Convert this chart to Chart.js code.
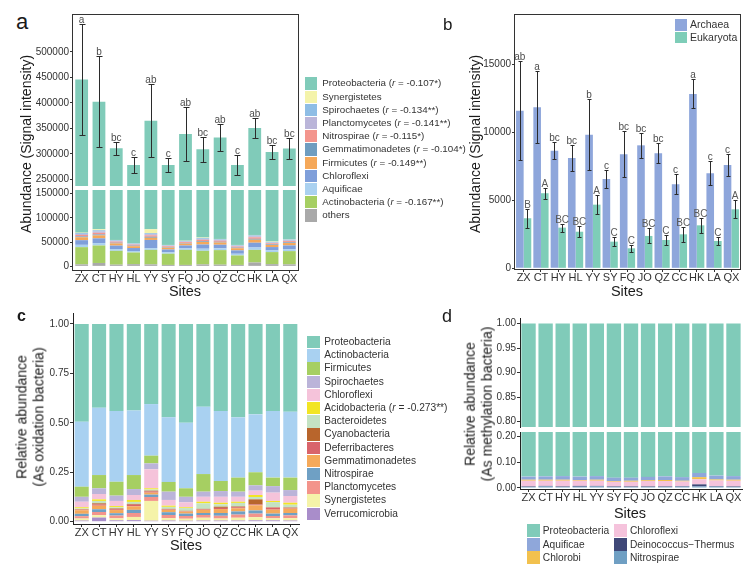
<!DOCTYPE html>
<html>
<head>
<meta charset="utf-8">
<title>Abundance by site</title>
<script src="https://cdn.jsdelivr.net/npm/chart.js@4.4.1/dist/chart.umd.min.js"></script>
<style>
  body { margin: 0; background: #ffffff; }
  #fig { position: relative; width: 749px; height: 575px; overflow: hidden;
         font-family: "Liberation Sans", Arial, Helvetica, sans-serif; color: #1a1a1a; }
  #fig canvas { position: absolute; }
  .txt { position: absolute; white-space: nowrap; line-height: 1; }
  .ytitle { position: absolute; white-space: nowrap; text-align: center; font-size: 14px;
            transform: translate(-50%, -50%) rotate(-90deg); }
  .xtitle { position: absolute; white-space: nowrap; font-size: 14.5px; line-height: 1;
            transform: translate(-50%, -50%); }
  .frame { position: absolute; border: 1px solid #333; box-sizing: border-box; pointer-events: none; }
  .key { position: absolute; }
  .keytxt { position: absolute; white-space: nowrap; color: #333; }
</style>
</head>
<body>
<div id="fig"></div>
<script>
//*************  Dados  ****************/
const sites = ["ZX", "CT", "HY", "HL", "YY", "SY", "FQ", "JO", "QZ", "CC", "HK", "LA", "QX"]

// a) abundancia (signal intensity), camadas de baixo para cima
const aTotal   = [445500, 402000, 311000, 278000, 365000, 278000, 338700, 309000, 332000, 278000, 350600, 303800, 310300]
const aError   = [109000, 89000, 13000, 15000, 72000, 13500, 53000, 24500, 26000, 20000, 20000, 14000, 20000]
const aLetters = ["a", "b", "bc", "c", "ab", "c", "ab", "bc", "ab", "c", "ab", "bc", "bc"]
const aOthers  = [4000, 7000, 3500, 4500, 4000, 3000, 3000, 4000, 3500, 3000, 8000, 4500, 4000]
const aActino  = [35600, 36000, 28500, 24100, 30000, 23000, 31000, 28000, 30000, 19500, 26000, 24900, 27400]
const aAquif   = [4800, 5000, 3600, 3000, 3500, 2900, 3000, 4400, 3700, 3500, 4900, 3500, 3900]
const aChloro  = [9600, 9800, 7200, 6200, 17000, 5900, 6100, 8700, 7400, 7000, 9900, 6900, 7900]
const aFirm    = [6000, 6000, 4500, 3800, 4500, 3700, 3800, 5400, 4600, 4400, 6200, 4300, 4900]
const aGemma   = [1800, 2000, 1400, 1200, 2000, 1100, 1100, 1600, 1400, 1300, 1800, 1300, 1500]
const aNitro   = [3000, 3400, 2300, 2000, 3000, 1800, 1900, 2700, 2300, 2200, 3100, 2200, 2500]
const aPlancto = [2200, 2600, 1600, 1300, 2400, 1300, 1400, 1900, 1600, 1500, 2200, 1500, 1700]
const aSpiro   = [1800, 2600, 1400, 1200, 2000, 1100, 1200, 1600, 1400, 1300, 1900, 1300, 1500]
const aSynerg  = [700, 2000, 500, 500, 8000, 500, 500, 1000, 700, 600, 800, 700, 700]
const aProteo  = [376000, 325600, 256500, 230200, 288600, 233700, 285700, 249700, 275400, 233700, 285800, 252700, 254300]
const aNames   = ["others", "Actinobacteria", "Aquificae", "Chloroflexi", "Firmicutes", "Gemmatimonadetes",
                  "Nitrospirae", "Planctomycetes", "Spirochaetes", "Synergistetes", "Proteobacteria"]
const aNotes   = ["", "(r = -0.167**)", "", "", "(r = -0.149**)", "(r = -0.104*)",
                  "(r = -0.115*)", "(r = -0.141**)", "(r = -0.134**)", "", "(r = -0.107*)"]
const aColors  = ["#a9a9a9", "#a6cf63", "#aad1f0", "#7f9fda", "#f5a859", "#6f9dc0",
                  "#f3958d", "#bab5d9", "#8ebde5", "#f4f3aa", "#80cbb9"]
const aTopTicks = [250000, 300000, 350000, 400000, 450000, 500000]
const aTopLabels = ["250000", "300000", "350000", "400000", "450000", "500000"]
const aBotTicks = [0, 50000, 100000, 150000]
const aBotLabels = ["0", "50000", "100000", "150000"]

// b) Archaea / Eukaryota
const archaea     = [11590, 11840, 8650, 8110, 9820, 6570, 8380, 9040, 8460, 6180, 12820, 6990, 7600]
const archaeaErr  = [3640, 2630, 600, 950, 2600, 630, 1700, 900, 730, 735, 1070, 880, 820]
const archaeaLet  = ["ab", "a", "bc", "bc", "b", "c", "bc", "bc", "bc", "c", "a", "c", "c"]
const eukaryota   = [3680, 5520, 2990, 2690, 4680, 1960, 1470, 2380, 2080, 2500, 3160, 2010, 4340]
const eukaryotaErr = [700, 400, 300, 400, 700, 350, 250, 550, 340, 550, 550, 280, 660]
const eukaryotaLet = ["B", "A", "BC", "BC", "A", "C", "C", "BC", "C", "BC", "BC", "C", "A"]
const bNames  = ["Archaea", "Eukaryota"]
const bColors = ["#8ea6db", "#7ecdb8"]
const bTicks  = [0, 5000, 10000, 15000]
const bLabels = ["0", "5000", "10000", "15000"]

// c) abundancia relativa (oxidacao), camadas de baixo para cima
const cVerruco = [0.006, 0.021, 0.007, 0.008, 0.005, 0.006, 0.005, 0.006, 0.006, 0.006, 0.007, 0.007, 0.006]
const cSynerg  = [0.010, 0.012, 0.010, 0.016, 0.100, 0.012, 0.010, 0.014, 0.010, 0.014, 0.016, 0.010, 0.012]
const cPlancto = [0.012, 0.016, 0.014, 0.020, 0.020, 0.016, 0.014, 0.014, 0.014, 0.016, 0.018, 0.012, 0.014]
const cNitro   = [0.012, 0.014, 0.012, 0.016, 0.012, 0.014, 0.012, 0.010, 0.014, 0.016, 0.016, 0.012, 0.012]
const cGemma   = [0.018, 0.018, 0.016, 0.018, 0.010, 0.012, 0.010, 0.016, 0.020, 0.016, 0.026, 0.020, 0.022]
const cDeferri = [0.003, 0.006, 0.004, 0.008, 0.006, 0.003, 0.002, 0.003, 0.006, 0.005, 0.004, 0.010, 0.004]
const cCyano   = [0.002, 0.006, 0.004, 0.004, 0.004, 0.002, 0.002, 0.002, 0.006, 0.004, 0.026, 0.002, 0.002]
const cBact    = [0.004, 0.012, 0.006, 0.010, 0.006, 0.010, 0.014, 0.028, 0.012, 0.018, 0.012, 0.026, 0.014]
const cAcido   = [0.006, 0.008, 0.006, 0.010, 0.006, 0.006, 0.004, 0.008, 0.008, 0.006, 0.010, 0.006, 0.010]
const cChloro  = [0.028, 0.027, 0.026, 0.025, 0.096, 0.029, 0.025, 0.025, 0.030, 0.025, 0.022, 0.042, 0.034]
const cSpiro   = [0.025, 0.029, 0.027, 0.030, 0.030, 0.042, 0.028, 0.026, 0.029, 0.026, 0.027, 0.033, 0.030]
const cFirm    = [0.051, 0.067, 0.070, 0.071, 0.039, 0.049, 0.043, 0.089, 0.051, 0.071, 0.066, 0.043, 0.063]
const cActino  = [0.329, 0.341, 0.358, 0.326, 0.261, 0.327, 0.332, 0.341, 0.354, 0.305, 0.293, 0.337, 0.333]
const cProteo  = [0.494, 0.423, 0.440, 0.438, 0.405, 0.472, 0.499, 0.418, 0.440, 0.472, 0.457, 0.440, 0.444]
const cNames   = ["Verrucomicrobia", "Synergistetes", "Planctomycetes", "Nitrospirae", "Gemmatimonadetes",
                  "Deferribacteres", "Cyanobacteria", "Bacteroidetes", "Acidobacteria", "Chloroflexi",
                  "Spirochaetes", "Firmicutes", "Actinobacteria", "Proteobacteria"]
const cNotes   = ["", "", "", "", "", "", "", "", "(r = -0.273**)", "", "", "", "", ""]
const cColors  = ["#a98dca", "#f5f3a9", "#f3948b", "#6fa0c4", "#f5a95a", "#d9646b", "#b8652c",
                  "#c4e3c3", "#f2e524", "#f5c3da", "#bbb4d9", "#a6cf62", "#a9d1f1", "#80cbb9"]
const cTicks  = [0, 0.25, 0.5, 0.75, 1]
const cLabels = ["0.00", "0.25", "0.50", "0.75", "1.00"]

// d) abundancia relativa (metilacao), camadas de baixo para cima
const dNitro    = [0.004, 0.006, 0.004, 0.005, 0.006, 0.004, 0.004, 0.004, 0.004, 0.005, 0.006, 0.005, 0.004]
const dDeino    = [0.002, 0.002, 0.002, 0.003, 0.002, 0.002, 0.002, 0.002, 0.002, 0.002, 0.008, 0.002, 0.002]
const dChloro   = [0.022, 0.020, 0.022, 0.020, 0.020, 0.018, 0.018, 0.021, 0.021, 0.018, 0.020, 0.022, 0.022]
const dChlorobi = [0.004, 0.004, 0.004, 0.003, 0.004, 0.003, 0.004, 0.003, 0.004, 0.003, 0.008, 0.004, 0.004]
const dAquif    = [0.012, 0.013, 0.014, 0.013, 0.014, 0.013, 0.012, 0.013, 0.014, 0.014, 0.016, 0.015, 0.014]
const dProteo   = [0.956, 0.955, 0.954, 0.956, 0.954, 0.960, 0.960, 0.957, 0.955, 0.958, 0.942, 0.952, 0.954]
const dNames    = ["Nitrospirae", "Deinococcus\u2212Thermus", "Chloroflexi", "Chlorobi", "Aquificae", "Proteobacteria"]
const dColors   = ["#6f9fc3", "#3f4878", "#f5c3dc", "#f2c14e", "#8fa7da", "#80cbb9"]
const dTopTicks  = [0.80, 0.85, 0.90, 0.95, 1.00]
const dTopLabels = ["0.80", "0.85", "0.90", "0.95", "1.00"]
const dBotTicks  = [0, 0.05, 0.10, 0.15, 0.20]
const dBotLabels = ["0.00", "", "0.10", "", "0.20"]

const aLayers = [aOthers, aActino, aAquif, aChloro, aFirm, aGemma, aNitro, aPlancto, aSpiro, aSynerg, aProteo]
const cLayers = [cVerruco, cSynerg, cPlancto, cNitro, cGemma, cDeferri, cCyano, cBact, cAcido, cChloro, cSpiro, cFirm, cActino, cProteo]
const dLayers = [dNitro, dDeino, dChloro, dChlorobi, dAquif, dProteo]


//*************  Plugin: barras de erro + letras  ****************/
const errorBars = {
    id: "errorBars",
    afterDatasetsDraw(chart, args, opts){
        if(!opts.items) return
        let ctx = chart.ctx
        let y = chart.scales.y
        ctx.save()
        ctx.lineWidth = 1
        ctx.textAlign = "center"
        ctx.textBaseline = "alphabetic"
        ctx.font = '10px "Liberation Sans", Arial, sans-serif'
        opts.items.forEach(item => {
            let meta = chart.getDatasetMeta(item.dataset)
            meta.data.forEach((bar, i) => {
                let x = Math.round(bar.x) + 0.5
                let top = Math.round(y.getPixelForValue(item.centre[i] + item.err[i])) + 0.5
                let bot = Math.round(y.getPixelForValue(item.centre[i] - item.err[i])) + 0.5
                let h = item.cap / 2
                ctx.strokeStyle = "#2b2b2b"
                ctx.beginPath()
                ctx.moveTo(x, top)
                ctx.lineTo(x, bot)
                ctx.moveTo(x - h, top)
                ctx.lineTo(x + h, top)
                ctx.moveTo(x - h, bot)
                ctx.lineTo(x + h, bot)
                ctx.stroke()
                ctx.fillStyle = item.textColor
                ctx.fillText(item.letters[i], bar.x, top - 1.5)
            })
        })
        ctx.restore()
    }
}


//*************  Helpers  ****************/
const fig = document.getElementById("fig")
Chart.defaults.font.family = '"Liberation Sans", Arial, sans-serif'

function addDiv(cls, css, html){
    let el = document.createElement("div")
    el.className = cls
    Object.assign(el.style, css)
    if(html) el.innerHTML = html
    fig.appendChild(el)
    return el
}

// texto posicionado pela linha de base
function addLabel(text, x, baseline, size, weight){
    addDiv("txt", {left: x + "px", top: (baseline - 0.85 * size) + "px",
                   fontSize: size + "px", fontWeight: weight || "normal"}, text)
}

function addLegend(items, x, y, pitch, kw, kh, dx, size){
    items.forEach((it, i) => {
        let top = y + i * pitch
        addDiv("key", {left: x + "px", top: top + "px", width: kw + "px", height: kh + "px", background: it.color})
        addDiv("keytxt", {left: (x + dx) + "px", top: top + "px", height: kh + "px",
                          lineHeight: kh + "px", fontSize: size + "px"}, it.label)
    })
}

function legendLabel(name, note){
    if(!note) return name
    return name + " " + note.replace("r =", "<i>r</i> =")
}

function layer(label, data, color, pct){
    return {label: label, data: data, backgroundColor: color, borderWidth: 0,
            categoryPercentage: pct, barPercentage: 1, clip: 0}
}

// area = caixa do grafico (px na pagina)
function makeChart(area, o, datasets){
    let padTop = 10, padRight = 4
    let padBottom = o.xh ? 0 : 8
    let left = area.l - o.yw
    let top = area.t - padTop
    let canvas = document.createElement("canvas")
    canvas.width = area.r - left + padRight
    canvas.height = area.b - top + padBottom + (o.xh || 0)
    canvas.style.left = left + "px"
    canvas.style.top = top + "px"
    fig.appendChild(canvas)

    return new Chart(canvas, {
        type: "bar",
        data: {labels: sites, datasets: datasets},
        plugins: [errorBars],
        options: {
            responsive: false,
            animation: false,
            devicePixelRatio: 1,
            layout: {padding: {top: padTop, right: padRight, bottom: padBottom, left: 0}},
            plugins: {
                legend: {display: false},
                tooltip: {enabled: false},
                errorBars: o.errorBars || {}
            },
            scales: {
                x: {
                    display: !!o.xh,
                    stacked: o.stacked,
                    offset: true,
                    grid: {drawOnChartArea: false, offset: false, tickLength: 3, color: "#333"},
                    border: {display: !!o.axisLines, color: "#222"},
                    ticks: {autoSkip: false, maxRotation: 0, minRotation: 0, padding: 0,
                            color: "#333", font: {size: 11, lineHeight: 1}},
                    afterFit: s => { if(o.xh) s.height = o.xh }
                },
                y: {
                    stacked: o.stacked,
                    min: o.min,
                    max: o.max,
                    grid: {drawOnChartArea: false, tickLength: 3, color: "#333"},
                    border: {display: !!o.axisLines, color: "#222"},
                    ticks: {padding: 1, color: "#333", font: {size: 10},
                            callback: (v, i) => o.labels[i]},
                    afterBuildTicks: s => { s.ticks = o.ticks.map(v => ({value: v})) },
                    afterFit: s => { s.width = o.yw }
                }
            }
        }
    })
}


//*************  Painel a  ****************/
makeChart({l: 73, t: 15, r: 298, b: 186},
    {yw: 43, stacked: true, min: 237000, max: 572000, ticks: aTopTicks, labels: aTopLabels,
     errorBars: {items: [{dataset: aLayers.length - 1, centre: aTotal, err: aError,
                          letters: aLetters, cap: 6, textColor: "#4d4d4d"}]}},
    aLayers.map((d, i) => layer(aNames[i], d, aColors[i], 0.74)))

makeChart({l: 73, t: 190, r: 298, b: 270},
    {yw: 43, xh: 14, stacked: true, min: -7500, max: 157500, ticks: aBotTicks, labels: aBotLabels},
    aLayers.map((d, i) => layer(aNames[i], d, aColors[i], 0.74)))

addDiv("frame", {left: "72px", top: "14px", width: "227px", height: "257px"})
addLabel("a", 16, 30, 22)
addDiv("ytitle", {left: "26px", top: "144px"}, "Abundance (Signal intensity)")
addDiv("xtitle", {left: "185px", top: "291px"}, "Sites")

let aLeg = aNames.map((n, i) => ({label: legendLabel(n, aNotes[i]), color: aColors[i]})).reverse()
addLegend(aLeg, 305, 77.3, 13.2, 12, 12.4, 17.3, 9.8)


//*************  Painel b  ****************/
makeChart({l: 515, t: 15, r: 740, b: 269},
    {yw: 35, xh: 15, stacked: false, min: -50, max: 18620, ticks: bTicks, labels: bLabels,
     errorBars: {items: [
        {dataset: 0, centre: archaea, err: archaeaErr, letters: archaeaLet, cap: 4, textColor: "#4d4d4d"},
        {dataset: 1, centre: eukaryota, err: eukaryotaErr, letters: eukaryotaLet, cap: 4, textColor: "#5a5a5a"}
     ]}},
    [layer(bNames[0], archaea, bColors[0], 0.88), layer(bNames[1], eukaryota, bColors[1], 0.88)])

addDiv("frame", {left: "514px", top: "14px", width: "227px", height: "256px"})
addLabel("b", 443, 30, 17)
addDiv("ytitle", {left: "475px", top: "144px"}, "Abundance (Signal intensity)")
addDiv("xtitle", {left: "627px", top: "291px"}, "Sites")
addLegend(bNames.map((n, i) => ({label: n, color: bColors[i]})), 675, 19.3, 12.2, 11.7, 11.4, 15, 10.5)


//*************  Painel c  ****************/
makeChart({l: 73, t: 313, r: 299, b: 524},
    {yw: 43, xh: 14, stacked: true, axisLines: true, min: -0.0116, max: 1.0556, ticks: cTicks, labels: cLabels},
    cLayers.map((d, i) => layer(cNames[i], d, cColors[i], 0.81)))

addLabel("c", 17, 322, 16, "bold")
addDiv("ytitle", {left: "30px", top: "417px", lineHeight: "16.6px"}, "Relative abundance<br>(As oxidation bacteria)")
addDiv("xtitle", {left: "186px", top: "545px"}, "Sites")

let cLeg = cNames.map((n, i) => ({label: legendLabel(n, cNotes[i]), color: cColors[i]})).reverse()
addLegend(cLeg, 307.3, 336, 13.2, 12.7, 12.4, 17, 10.2)


//*************  Painel d  ****************/
makeChart({l: 520, t: 318, r: 742, b: 427},
    {yw: 50, stacked: true, axisLines: true, min: 0.789, max: 1.0113, ticks: dTopTicks, labels: dTopLabels},
    dLayers.map((d, i) => layer(dNames[i], d, dColors[i], 0.84)))

makeChart({l: 520, t: 432, r: 742, b: 489},
    {yw: 50, xh: 14, stacked: true, axisLines: true, min: -0.004, max: 0.217, ticks: dBotTicks, labels: dBotLabels},
    dLayers.map((d, i) => layer(dNames[i], d, dColors[i], 0.84)))

addLabel("d", 442, 322, 18)
addDiv("ytitle", {left: "479px", top: "404px", lineHeight: "17.3px"}, "Relative abundance<br>(As methylation bacteria)")
addDiv("xtitle", {left: "630px", top: "513px"}, "Sites")

// legenda em duas colunas (ordem do ggplot: de cima para baixo)
let dLeg = dNames.map((n, i) => ({label: n, color: dColors[i]})).reverse()
addLegend(dLeg.slice(0, 3), 527.3, 524, 13.7, 12.7, 13, 15.5, 10.2)
addLegend(dLeg.slice(3), 614, 524, 13.7, 12.7, 13, 16, 10.2)
</script>
</body>
</html>
